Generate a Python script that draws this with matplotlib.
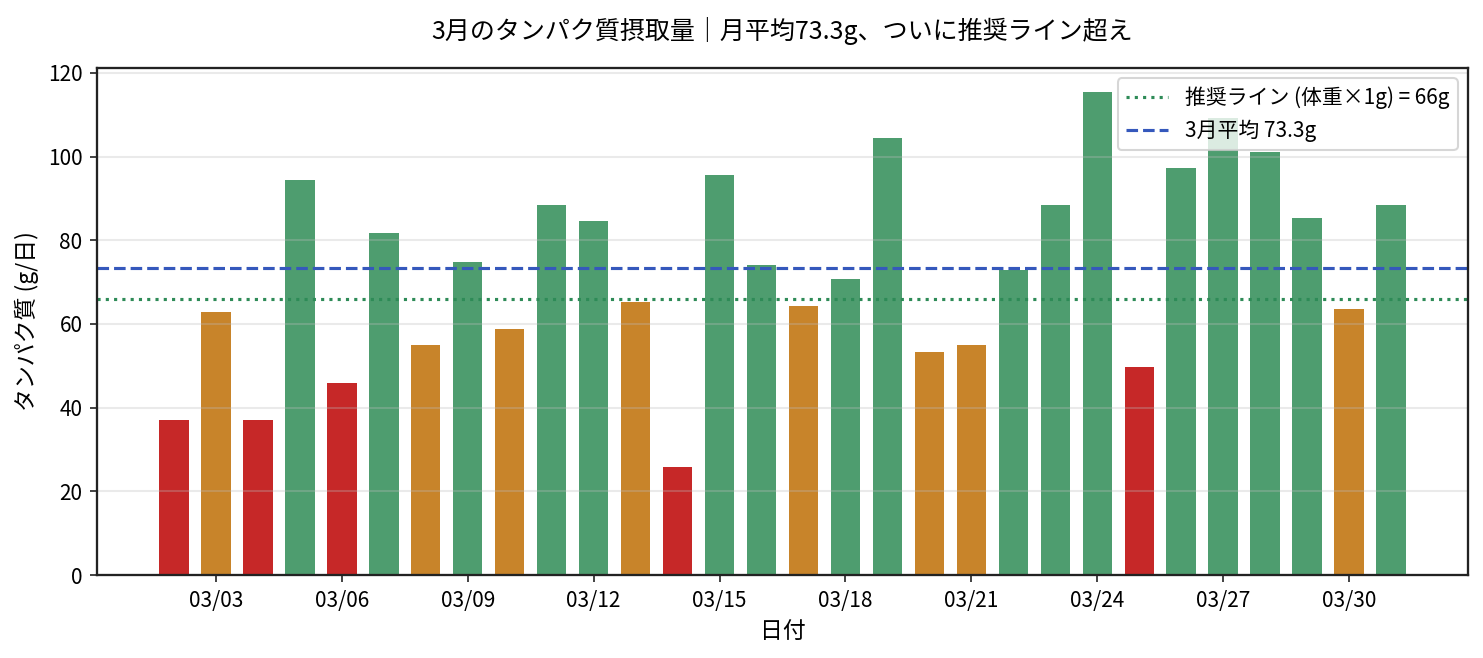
import pandas as pd
import matplotlib
matplotlib.use('Agg')
import matplotlib.pyplot as plt
import matplotlib.dates as mdates

plt.rcParams['font.family'] = ['Noto Sans CJK JP', 'DejaVu Sans']

# 3月の日別タンパク質摂取量 (g)
fechas = pd.date_range('2024-03-02', '2024-03-31', freq='D')
proteina = [37.0, 62.8, 37.0, 94.4, 45.9, 81.7, 55.0, 74.8, 58.8, 88.4,
            84.6, 65.2, 25.8, 95.6, 74.1, 64.3, 70.7, 104.4, 53.3, 55.0,
            72.9, 88.4, 115.4, 49.7, 97.3, 109.2, 101.1, 85.3, 63.6, 88.4]
recomendado = 66
limite_bajo = 50

promedio = sum(proteina) / len(proteina)

# Color según el nivel
colores = []
for v in proteina:
    if v < limite_bajo:
        colores.append('#C62828')
    elif v < recomendado:
        colores.append('#C8842A')
    else:
        colores.append('#4E9D6F')

fig = plt.figure(figsize=(1483 / 150, 658 / 150), dpi=150)
ax = fig.add_axes([0.0654, 0.1261, 0.9245, 0.7706])

ax.bar(fechas, proteina, width=0.7, color=colores)
ax.axhline(recomendado, color='#2E8B57', linestyle=':', linewidth=1.5,
           label='推奨ライン (体重×1g) = 66g')
ax.axhline(promedio, color='#3558BC', linestyle='--', linewidth=1.5,
           label=f'3月平均 {promedio:.1f}g')

ax.grid(axis='y', color='#bcbcbc', alpha=0.3, linewidth=1)
ax.set_title(f'3月のタンパク質摂取量｜月平均{promedio:.1f}g、ついに推奨ライン超え',
             fontsize=12, pad=14)
ax.set_xlabel('日付', fontsize=11)
ax.set_ylabel('タンパク質 (g/日)', fontsize=11)
ax.set_yticks(range(0, 121, 20))

ax.xaxis.set_major_locator(mdates.DayLocator(bymonthday=range(3, 31, 3)))
ax.xaxis.set_major_formatter(mdates.DateFormatter('%m/%d'))
ax.tick_params(labelsize=10, color='#222222')
for s in ax.spines.values():
    s.set_color('#222222')
    s.set_linewidth(1.1)

ax.legend(loc='upper right', fontsize=10)

plt.savefig('out.png', dpi=150)
